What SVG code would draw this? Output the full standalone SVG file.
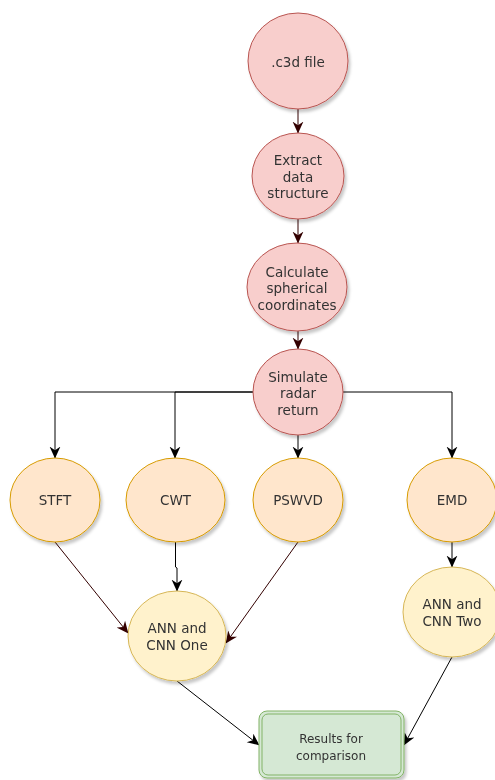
<svg xmlns="http://www.w3.org/2000/svg" width="495" height="780" viewBox="0 0 495 780">
<defs>
<filter id="sh" x="-20%" y="-20%" width="150%" height="150%">
<feDropShadow dx="2" dy="3" stdDeviation="1.5" flood-color="#000" flood-opacity="0.22"/>
</filter>
<marker id="ab" markerUnits="userSpaceOnUse" markerWidth="12" markerHeight="12" viewBox="0 0 10 10" refX="9.5" refY="5" orient="auto">
<path d="M0,0.5 L10,5 L0,9.5 L3,5 z" fill="#000"/>
</marker>
<marker id="ar" markerUnits="userSpaceOnUse" markerWidth="12" markerHeight="12" viewBox="0 0 10 10" refX="9.5" refY="5" orient="auto">
<path d="M0,0.5 L10,5 L0,9.5 L3,5 z" fill="#330000"/>
</marker>
<style>
.pink{fill:#f8cecc;stroke:#b85450;stroke-width:1}
.orange{fill:#ffe6cc;stroke:#d79b00;stroke-width:1}
.yellow{fill:#fff2cc;stroke:#d6b656;stroke-width:1}
.green{fill:#d5e8d4;stroke:#82b366;stroke-width:1}
text{font-family:"DejaVu Sans",Verdana,sans-serif;font-size:13.5px;fill:#333;text-anchor:middle;dominant-baseline:central}
.sm{font-size:12px}
.lb{fill:none;stroke:#000;stroke-width:1;marker-end:url(#ab)}
.lr{fill:none;stroke:#330000;stroke-width:1;marker-end:url(#ar)}
</style>
</defs>
<g id="connectors">
<path class="lr" d="M298 109 L298 133"/>
<path class="lr" d="M298 219 L298 243"/>
<path class="lr" d="M298 331 L298 349"/>
<path class="lb" d="M253 392 L55 392 L55 458"/>
<path class="lb" d="M253 392 L175 392 L175 458"/>
<path class="lb" d="M298 435 L298 458"/>
<path class="lb" d="M343 392 L452 392 L452 458"/>
<path class="lb" d="M175.5 542 L175.5 567 L177 568 L177 591"/>
<path class="lr" d="M55 542 L128 633"/>
<path class="lr" d="M298 542 L226 643"/>
<path class="lb" d="M452 542 L452 567"/>
<path class="lb" d="M177 681 L259 745"/>
<path class="lb" d="M452 657 L404 745"/>
</g>
<g id="c3d" filter="url(#sh)">
<ellipse class="pink" cx="298" cy="61" rx="50" ry="48"/>
<text x="298" y="62">.c3d file</text>
</g>
<g id="extract" filter="url(#sh)">
<ellipse class="pink" cx="298" cy="176" rx="46" ry="43"/>
<text x="298" y="160">Extract</text>
<text x="298" y="177">data</text>
<text x="298" y="193">structure</text>
</g>
<g id="calculate" filter="url(#sh)">
<ellipse class="pink" cx="297" cy="287" rx="50" ry="44"/>
<text x="297" y="272">Calculate</text>
<text x="297" y="288">spherical</text>
<text x="297" y="305">coordinates</text>
</g>
<g id="simulate" filter="url(#sh)">
<ellipse class="pink" cx="298" cy="392" rx="45" ry="43"/>
<text x="298" y="377">Simulate</text>
<text x="298" y="393">radar</text>
<text x="298" y="410">return</text>
</g>
<g id="stft" filter="url(#sh)">
<ellipse class="orange" cx="55" cy="500" rx="45" ry="42"/>
<text x="55" y="500">STFT</text>
</g>
<g id="cwt" filter="url(#sh)">
<ellipse class="orange" cx="175.5" cy="500" rx="49.5" ry="42"/>
<text x="175.5" y="500">CWT</text>
</g>
<g id="pswvd" filter="url(#sh)">
<ellipse class="orange" cx="298" cy="500" rx="45" ry="42"/>
<text x="298" y="500">PSWVD</text>
</g>
<g id="emd" filter="url(#sh)">
<ellipse class="orange" cx="452" cy="500" rx="45" ry="42"/>
<text x="452" y="500">EMD</text>
</g>
<g id="ann1" filter="url(#sh)">
<ellipse class="yellow" cx="177" cy="636" rx="49" ry="45"/>
<text x="177" y="628">ANN and</text>
<text x="177" y="645">CNN One</text>
</g>
<g id="ann2" filter="url(#sh)">
<ellipse class="yellow" cx="452" cy="612" rx="49" ry="45"/>
<text x="452" y="604">ANN and</text>
<text x="452" y="621">CNN Two</text>
</g>
<g id="results" filter="url(#sh)">
<rect class="green" x="259" y="711" width="145" height="67" rx="8"/>
<rect x="262" y="714" width="139" height="61" rx="6" fill="none" stroke="#82b366"/>
<text class="sm" x="331" y="739">Results for</text>
<text class="sm" x="331" y="756">comparison</text>
</g>
</svg>
